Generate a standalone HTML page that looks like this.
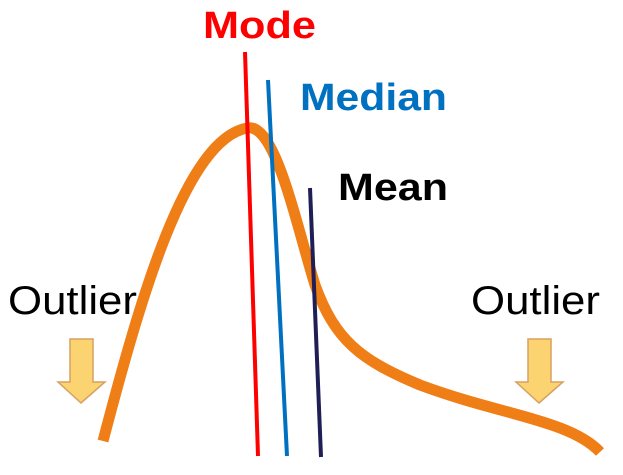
<!DOCTYPE html>
<html><head><style>html,body{margin:0;padding:0;background:#fff;}svg{display:block}</style></head>
<body>
<svg width="623" height="475" viewBox="0 0 623 475" xmlns="http://www.w3.org/2000/svg">
<path d="M103,441 C140,300 185,140 247,128 C275,122 295,220 315,285 C335,340 360,360 420,385 C500,415 570,420 600,452" fill="none" stroke="#f07e16" stroke-width="11"/>
<line x1="245" y1="52" x2="258" y2="456" stroke="#ff0000" stroke-width="4"/>
<line x1="268" y1="80" x2="287" y2="456" stroke="#0070c0" stroke-width="4"/>
<line x1="310" y1="188" x2="321" y2="457" stroke="#1f1f55" stroke-width="4"/>
<g font-family="Liberation Sans, sans-serif">
<text x="203" y="38" font-size="38" font-weight="bold" fill="#ff0000" textLength="113" lengthAdjust="spacingAndGlyphs">Mode</text>
<text x="300" y="110" font-size="38" font-weight="bold" fill="#0070c0" textLength="147" lengthAdjust="spacingAndGlyphs">Median</text>
<text x="338" y="200" font-size="38" font-weight="bold" fill="#000" textLength="110" lengthAdjust="spacingAndGlyphs">Mean</text>
<text x="8" y="314" font-size="40" fill="#000" textLength="129" lengthAdjust="spacingAndGlyphs">Outlier</text>
<text x="471" y="314" font-size="40" fill="#000" textLength="129" lengthAdjust="spacingAndGlyphs">Outlier</text>
</g>
<polygon points="70,339 93,339 93,382 105,382 81,403 58,382 70,382" fill="#fcd371" stroke="#d8a060" stroke-width="1.5"/>
<polygon points="528,339 551,339 551,382 563,382 539,403 516,382 528,382" fill="#fcd371" stroke="#d8a060" stroke-width="1.5"/>
</svg>
</body></html>
